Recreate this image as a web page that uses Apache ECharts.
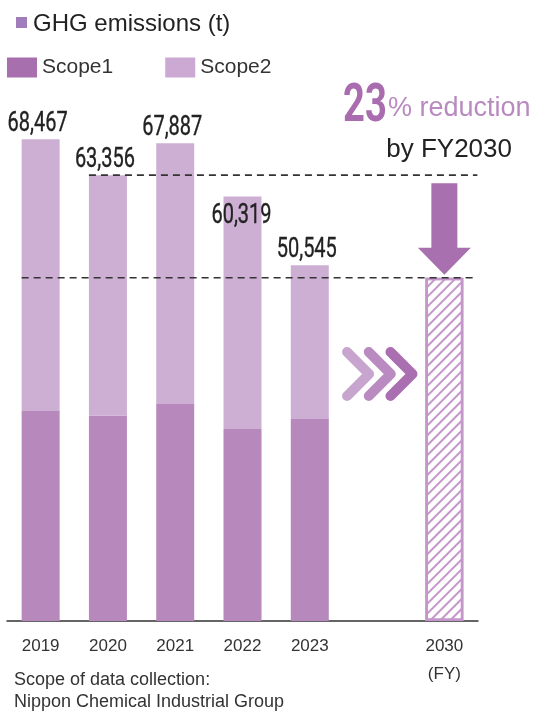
<!DOCTYPE html>
<html>
<head>
<meta charset="utf-8">
<title>GHG emissions</title>
<script src="https://cdn.jsdelivr.net/npm/echarts@6/dist/echarts.min.js"></script>
<style>
  html, body { margin: 0; padding: 0; background: #fff; }
  #chart { width: 542px; height: 713px; }
</style>
</head>
<body>
<div id="chart"></div>
<script>
// GHG emissions by fiscal year (t)
const years = ['2019', '2020', '2021', '2022', '2023', '', '2030'];
const scope1 = [29830, 29160, 30820, 27270, 28690, '-', '-'];
const scope2 = [38637, 34196, 37067, 33049, 21855, '-', '-'];
const totals = [68467, 63356, 67887, 60319, 50545];
const baseYearValue = 63356;   // FY2020 total, reference level
const reductionPct = 23;
const target2030 = ['-', '-', '-', '-', '-', '-', 48784];

// condensed figures are drawn with a horizontally squeezed Roboto
const FIG = "Roboto, 'Noto Sans', sans-serif";
const SANS = "'Liberation Sans', Arial, 'Noto Sans', sans-serif";
const C_S1 = '#b688bb', C_S2 = '#cdafd4';
const C_S1_KEY = '#a86fae', C_S2_KEY = '#cba9d2';
const C_ACCENT = '#a96caf';

const chart = echarts.init(document.getElementById('chart'), null, { renderer: 'canvas' });

const fmt = v => v.toLocaleString('en-US');

chart.setOption({
  animation: false,
  grid: { left: 7, right: 64, top: 58, bottom: 92, containLabel: false },
  legend: {
    left: 7, top: 57, padding: 0,
    itemWidth: 30, itemHeight: 20, itemGap: 52,
    icon: 'rect',
    selectedMode: false,
    textStyle: { fontFamily: SANS, fontSize: 21, color: '#333' },
    data: [
      { name: 'Scope1', itemStyle: { color: C_S1_KEY } },
      { name: 'Scope2', itemStyle: { color: C_S2_KEY } }
    ]
  },
  xAxis: {
    type: 'category',
    data: years,
    axisTick: { show: false },
    axisLine: { lineStyle: { color: '#333', width: 1.5 } },
    axisLabel: {
      interval: 0,
      margin: 11,
      fontFamily: SANS, fontSize: 17, color: '#333', lineHeight: 28,
      formatter: v => v === '2030' ? '2030\n(FY)' : v
    }
  },
  yAxis: {
    type: 'value', min: 0, max: 80000,
    show: false, splitLine: { show: false }
  },
  series: [
    {
      name: 'Scope1', type: 'bar', stack: 'ghg', barWidth: 38,
      data: scope1,
      itemStyle: { color: C_S1 }
    },
    {
      name: 'Scope2', type: 'bar', stack: 'ghg', barWidth: 38,
      data: scope2,
      itemStyle: { color: C_S2 }
    },
    {
      name: 'Target', type: 'bar', stack: 'ghg', barWidth: 38,
      data: target2030,
      itemStyle: {
        color: '#fff',
        borderColor: '#c496ca', borderWidth: 2.5,
        decal: {
          symbol: 'rect', symbolSize: 1,
          color: '#c496ca',
          dashArrayX: [1, 0], dashArrayY: [2, 5],
          rotation: -Math.PI / 4
        }
      }
    }
  ]
});

// Overlays positioned through the chart's own scales
const px = (cat) => chart.convertToPixel({ xAxisIndex: 0 }, cat);
const py = (val) => chart.convertToPixel({ yAxisIndex: 0 }, val);
const half = 19;
const yBase = py(baseYearValue);
const yTarget = py(target2030[6]);
const x2030 = px('2030');
const xGap = px('');
const xEnd = x2030 + 33;

const dash = { stroke: '#333', lineWidth: 1.6, lineDash: [7, 5] };

function chevron(x0, color, id) {
  return {
    type: 'polyline', id, z: 20,
    shape: { points: [[x0, 352], [x0 + 22, 374], [x0, 396]] },
    style: { stroke: color, lineWidth: 10, lineCap: 'round', lineJoin: 'round', fill: null }
  };
}

// total labels above each stacked bar
const totalLabels = totals.map((t, i) => {
  const nudge = years[i] === '2022' ? [2, 35] : [0, 0];
  return {
    type: 'text', id: 'tot' + i, z: 40,
    x: px(years[i]) - 3 + nudge[0], y: py(t) - 1.5 + nudge[1],
    scaleX: 0.74,
    style: {
      text: fmt(t), font: '27px ' + FIG, fill: '#222',
      stroke: '#222', lineWidth: 0.35,
      align: 'center', verticalAlign: 'bottom'
    }
  };
});

const arrowTop = yBase + 8, headTop = yTarget - 30, tip = yTarget - 3;

chart.setOption({
  graphic: [
    // heading
    { type: 'rect', id: 'hsq', shape: { x: 16, y: 17, width: 11, height: 11 }, style: { fill: '#a07cba' } },
    { type: 'text', id: 'htxt', x: 33, y: 24,
      style: { text: 'GHG emissions (t)', font: '24px ' + SANS, fill: '#222', verticalAlign: 'middle' } },

    // reduction call-out
    { type: 'text', id: 'pct', x: 343, y: 108, scaleX: 0.72,
      style: { text: String(reductionPct), font: 'bold 53px ' + FIG, fill: C_ACCENT, verticalAlign: 'middle' } },
    { type: 'text', id: 'pctTxt', x: 388, y: 109,
      style: { text: '% reduction', font: '27px ' + SANS, fill: '#b88abf', verticalAlign: 'middle' } },
    { type: 'text', id: 'by', x: 512, y: 150,
      style: { text: 'by FY2030', font: '26px ' + SANS, fill: '#222', align: 'right', verticalAlign: 'middle' } },

    // reference levels
    { type: 'line', id: 'lBase', z: 30,
      shape: { x1: px('2020') - half, y1: yBase, x2: xEnd, y2: yBase }, style: dash },
    { type: 'line', id: 'lTarget', z: 30,
      shape: { x1: px('2019') - half, y1: yTarget, x2: xEnd - 2, y2: yTarget }, style: dash },

    // down arrow toward the target
    { type: 'polygon', id: 'arrow', z: 25,
      shape: { points: [
        [x2030 - 13, arrowTop], [x2030 + 13, arrowTop], [x2030 + 13, headTop],
        [x2030 + 26.5, headTop], [x2030, tip], [x2030 - 26.5, headTop], [x2030 - 13, headTop]
      ] },
      style: { fill: '#a970b0' } },

    // progress chevrons
    chevron(xGap - 30, '#c8a5cf', 'ch1'),
    chevron(xGap - 8.3, '#b98bc0', 'ch2'),
    chevron(xGap + 13.4, '#a96fb0', 'ch3'),

    // footnote
    { type: 'text', id: 'note', x: 14, y: 669,
      style: { text: 'Scope of data collection:\nNippon Chemical Industrial Group',
        font: '18px ' + SANS, fill: '#333', lineHeight: 22 } }
  ].concat(totalLabels)
});
</script>
</body>
</html>
